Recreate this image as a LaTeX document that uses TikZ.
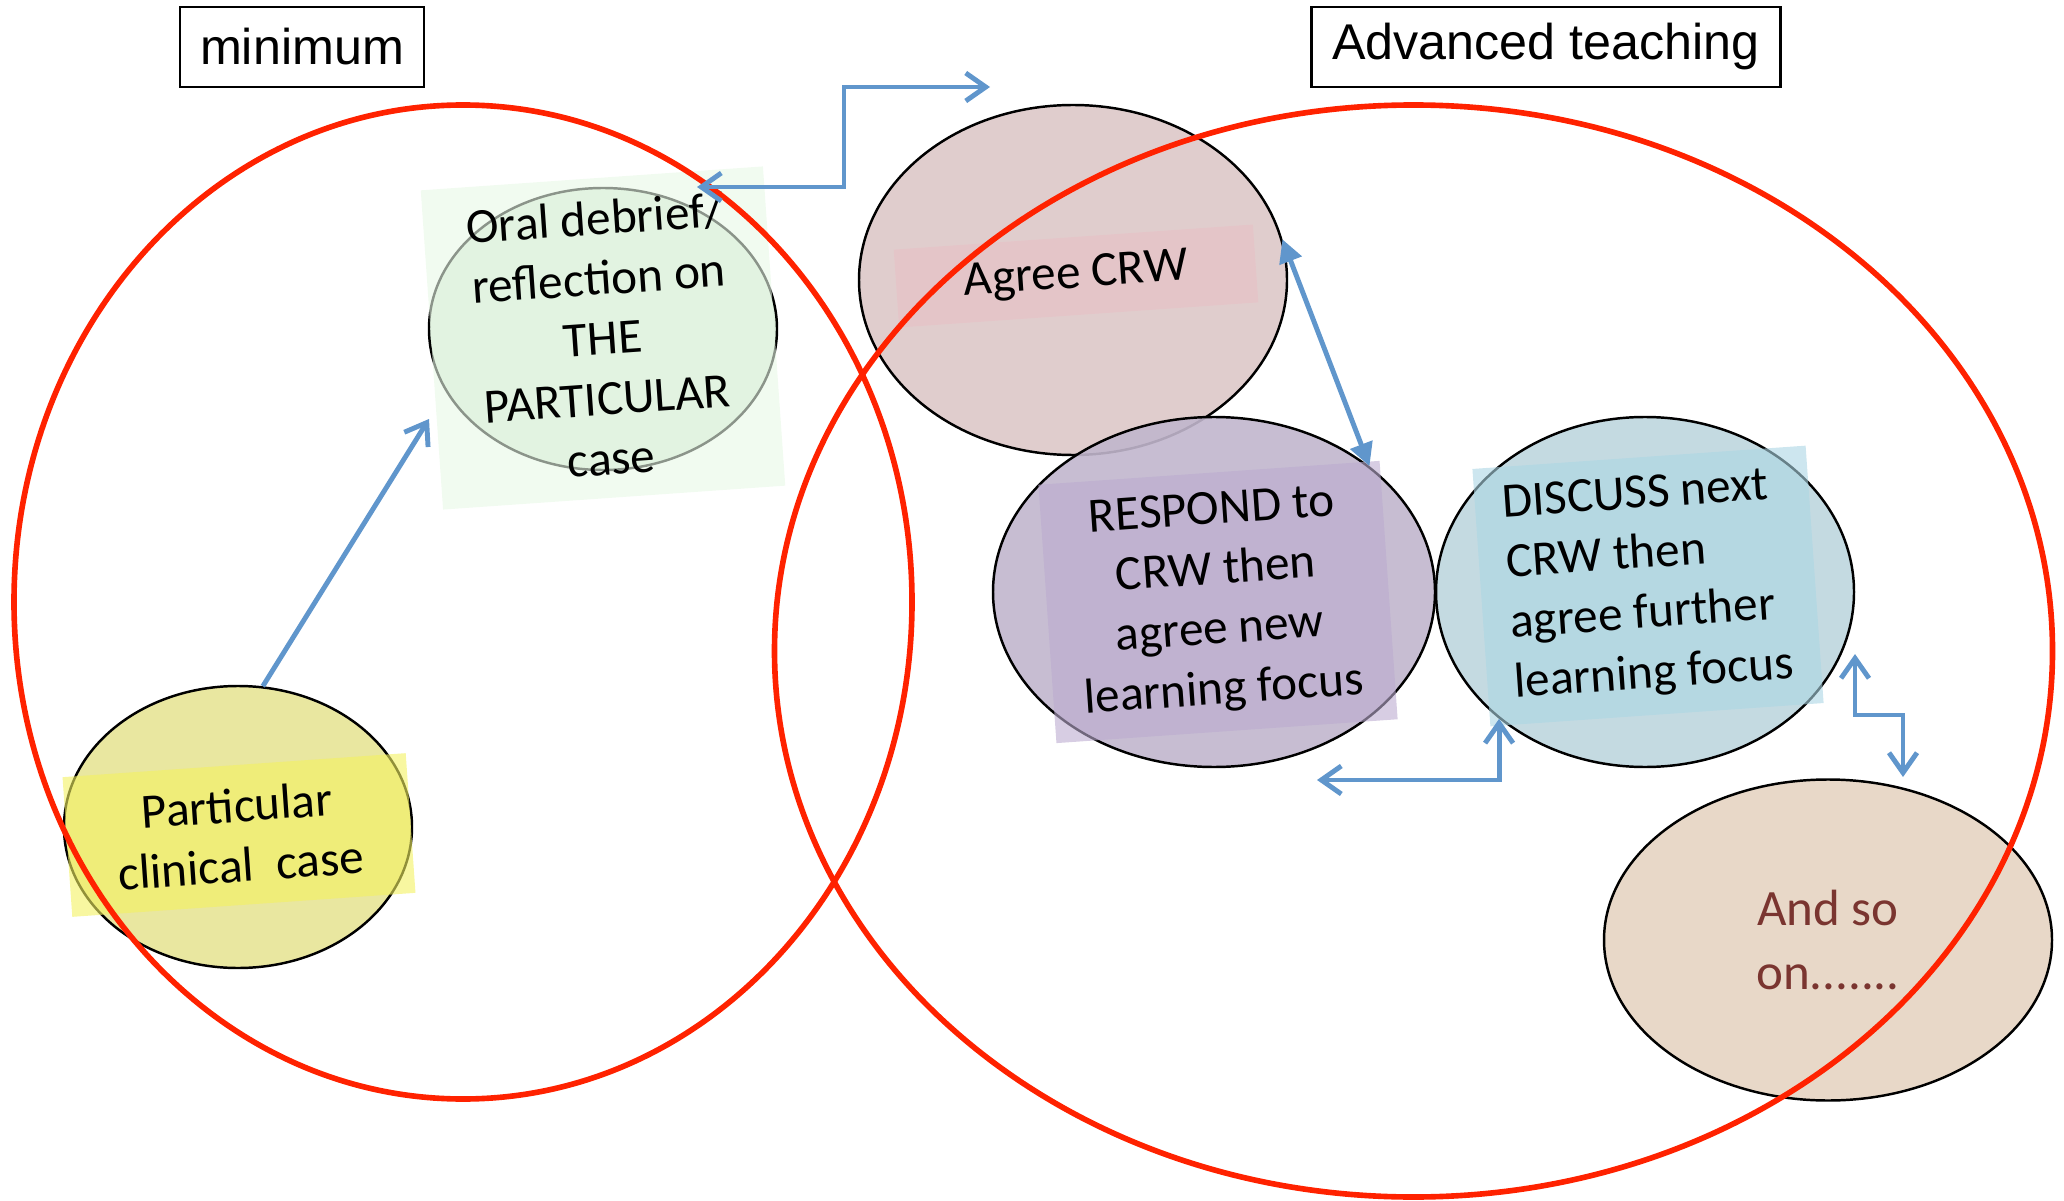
\documentclass[tikz,border=0pt]{standalone}
\usepackage{fontspec}
\setmainfont{Carlito}
\newfontfamily\headfont{Liberation Sans}
\usetikzlibrary{shapes.geometric,arrows.meta}
\definecolor{ringred}{RGB}{255,34,0}
\definecolor{linkblue}{RGB}{96,150,204}
\definecolor{casefill}{RGB}{231,228,150}
\definecolor{casepatch}{RGB}{243,241,96}
\definecolor{oralfill}{RGB}{216,236,215}
\definecolor{oralpatch}{RGB}{232,248,230}
\definecolor{agreefill}{RGB}{221,200,200}
\definecolor{agreepatch}{RGB}{232,192,198}
\definecolor{respondfill}{RGB}{193,182,205}
\definecolor{respondpatch}{RGB}{188,172,208}
\definecolor{discussfill}{RGB}{190,214,222}
\definecolor{discusspatch}{RGB}{172,214,228}
\definecolor{sofill}{RGB}{230,212,194}
\definecolor{sotext}{RGB}{122,53,48}
\begin{document}
\begin{tikzpicture}[
	bubble/.style={ellipse,draw=black,line width=0.7pt,inner sep=0pt,fill opacity=0.9,text opacity=1},
	patch/.style={rectangle,inner sep=0pt,fill opacity=0.6,text opacity=1,rotate=4,align=center,font=\fontsize{14}{17.1}\selectfont},
	ring/.style={draw=ringred,line width=1.6pt},
	link/.style={draw=linkblue,line width=1.4pt},
	title/.style={draw,line width=0.6pt,minimum height=0.8cm,font=\headfont\fontsize{14.3}{17}\selectfont},
	barb/.tip={Straight Barb[length=2mm,width=2.8mm]},
	tri/.tip={Triangle[length=2.3mm,width=2.3mm]}]
	\useasboundingbox (0,0) rectangle (20.64,12);
	\node[title,minimum width=2.44cm] (minimum) at (3.02,11.53) {minimum};
	\node[title,minimum width=4.69cm] (advanced) at (15.46,11.53) {Advanced teaching};
	\node[bubble,fill=casefill,minimum width=3.48cm,minimum height=2.82cm] (case) at (2.38,3.73) {};
	\node[patch,fill=casepatch,minimum width=3.44cm,minimum height=1.40cm] (casetext) at (2.39,3.65) {Particular\\clinical\ \ case};
	\node[bubble,fill=oralfill,minimum width=3.48cm,minimum height=2.82cm] (oral) at (6.03,8.71) {};
	\node[patch,fill=oralpatch,minimum width=3.43cm,minimum height=3.20cm] (oraltext) at (6.03,8.62) {Oral debrief/\\reflection on\\THE\\PARTICULAR\\case};
	\node[bubble,fill=agreefill,minimum width=4.28cm,minimum height=3.50cm] (agree) at (10.73,9.20) {};
	\node[patch,fill=agreepatch,minimum width=3.60cm,minimum height=0.78cm] (agreetext) at (10.76,9.24) {Agree CRW};
	\node[bubble,fill=respondfill,minimum width=4.42cm,minimum height=3.50cm] (respond) at (12.14,6.08) {};
	\node[patch,fill=respondpatch,minimum width=3.42cm,minimum height=2.59cm] (respondtext) at (12.18,5.98) {RESPOND to\\CRW then\\agree new\\learning focus};
	\node[bubble,fill=discussfill,minimum width=4.18cm,minimum height=3.50cm] (discuss) at (16.45,6.08) {};
	\node[patch,fill=discusspatch,minimum width=3.34cm,minimum height=2.58cm,align=left] (discusstext) at (16.48,6.14) {DISCUSS next\\CRW then\\agree further\\learning focus};
	\node[bubble,fill=sofill,minimum width=4.48cm,minimum height=3.21cm,text=sotext,align=center,font=\fontsize{14.5}{18}\selectfont] (soon) at (18.28,2.60) {And so\\on.......};
	\draw[ring] (4.63,5.98) ellipse [x radius=4.49,y radius=4.97];
	\draw[ring] (14.135,5.49) ellipse [x radius=6.39,y radius=5.46];
	\coordinate (oralin) at (4.29,7.81);
	\coordinate (debriefend) at (6.97,10.13);
	\coordinate (agreeend) at (9.90,11.13);
	\coordinate (respondbelow) at (13.17,4.20);
	\coordinate (discussright) at (18.55,5.46);
	\coordinate (soontop) at (19.03,4.23);
	\draw[link,-barb] (case.80) -- (oralin);
	\draw[link,barb-barb] (debriefend) -- (8.44,10.13) |- (agreeend);
	\draw[link,tri-tri] (agree.11) -- (respond.39);
	\draw[link,barb-barb] (respondbelow) -| (discuss.221);
	\draw[link,barb-barb] (discussright) -- ++(0,-0.61) -| (soontop);
\end{tikzpicture}
\end{document}
